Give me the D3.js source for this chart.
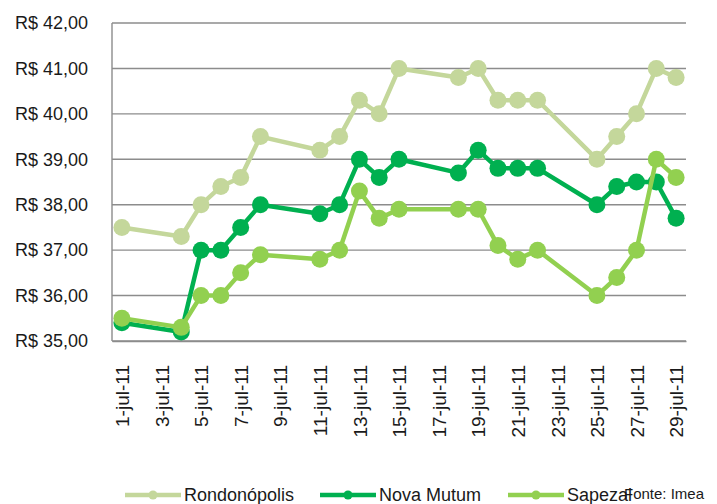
<!DOCTYPE html>
<html>
<head>
<meta charset="utf-8">
<script src="https://cdn.jsdelivr.net/npm/d3@7"></script>
<style>
  body { margin: 0; background: #fff; }
  text { font-family: "Liberation Sans", Arial, sans-serif; fill: #1a1a1a; }
</style>
</head>
<body>
<div id="chart"></div>
<script>
// Data
const dates = ["2011-07-01", "2011-07-04", "2011-07-05", "2011-07-06", "2011-07-07", "2011-07-08",
               "2011-07-11", "2011-07-12", "2011-07-13", "2011-07-14", "2011-07-15",
               "2011-07-18", "2011-07-19", "2011-07-20", "2011-07-21", "2011-07-22",
               "2011-07-25", "2011-07-26", "2011-07-27", "2011-07-28", "2011-07-29"];
const rondonopolis = [37.5, 37.3, 38.0, 38.4, 38.6, 39.5, 39.2, 39.5, 40.3, 40.0, 41.0,
                      40.8, 41.0, 40.3, 40.3, 40.3, 39.0, 39.5, 40.0, 41.0, 40.8];
const novaMutum    = [35.4, 35.2, 37.0, 37.0, 37.5, 38.0, 37.8, 38.0, 39.0, 38.6, 39.0,
                      38.7, 39.2, 38.8, 38.8, 38.8, 38.0, 38.4, 38.5, 38.5, 37.7];
const sapezal      = [35.5, 35.3, 36.0, 36.0, 36.5, 36.9, 36.8, 37.0, 38.3, 37.7, 37.9,
                      37.9, 37.9, 37.1, 36.8, 37.0, 36.0, 36.4, 37.0, 39.0, 38.6];
const seriesNames  = ["Rondonópolis", "Nova Mutum", "Sapezal"];
const seriesColors = ["#c4d79b", "#00b050", "#92d050"];
const yTicks = [35, 36, 37, 38, 39, 40, 41, 42];

const W = 717, H = 504;
const plot = {left: 112, right: 686, top: 23, bottom: 341};

const parse = d3.timeParse("%Y-%m-%d");
const days = dates.map(parse);
const series = [rondonopolis, novaMutum, sapezal];

const svg = d3.select("#chart").append("svg")
  .attr("width", W)
  .attr("height", H);

// scales (half a day of padding on each side, like excel's date axis)
const x = d3.scaleTime()
  .domain([d3.timeHour.offset(parse("2011-07-01"), -12), d3.timeHour.offset(parse("2011-07-29"), 12)])
  .range([plot.left, plot.right]);

const y = d3.scaleLinear()
  .domain([35, 42])
  .range([plot.bottom, plot.top]);

// gridlines
svg.append("g")
  .selectAll("line")
  .data(yTicks)
  .join("line")
    .attr("x1", plot.left)
    .attr("x2", plot.right)
    .attr("y1", d => y(d))
    .attr("y2", d => y(d))
    .attr("stroke", "#8c8c8c")
    .attr("stroke-width", 1.4);

// left axis line
svg.append("line")
  .attr("x1", plot.left).attr("x2", plot.left)
  .attr("y1", plot.top).attr("y2", plot.bottom)
  .attr("stroke", "#8c8c8c")
  .attr("stroke-width", 1.4);

// Y labels
const fmt = d => "R$ " + d3.format(".2f")(d).replace(".", ",");
svg.append("g")
  .selectAll("text")
  .data(yTicks)
  .join("text")
    .attr("x", 88)
    .attr("y", d => y(d))
    .attr("dy", "0.35em")
    .attr("text-anchor", "end")
    .attr("font-size", "18px")
    .text(fmt);

// X axis
const xAxis = d3.axisBottom(x)
  .ticks(d3.timeDay.every(2))
  .tickSize(0)
  .tickFormat(d => d.getDate() + "-jul-11");

svg.append("g")
  .attr("transform", "translate(0," + plot.bottom + ")")
  .call(xAxis)
  .call(g => g.select(".domain").attr("stroke", "#8c8c8c").attr("stroke-width", 1.4))
  .selectAll("text")
    .attr("font-family", "Liberation Sans, Arial, sans-serif")
    .attr("font-size", "19px")
    .attr("fill", "#1a1a1a")
    .attr("transform", "rotate(-90)")
    .attr("text-anchor", "end")
    .attr("x", -24)
    .attr("y", 0)
    .attr("dy", "0.35em");

// lines and markers
const line = d3.line()
  .x((d, i) => x(days[i]))
  .y(d => y(d));

series.forEach((vals, s) => {
  const g = svg.append("g");
  g.append("path")
    .datum(vals)
    .attr("d", line)
    .attr("fill", "none")
    .attr("stroke", seriesColors[s])
    .attr("stroke-width", 4.5)
    .attr("stroke-linejoin", "round");
  g.selectAll("circle")
    .data(vals)
    .join("circle")
      .attr("cx", (d, i) => x(days[i]))
      .attr("cy", d => y(d))
      .attr("r", 8.5)
      .attr("fill", seriesColors[s]);
});

// legend
const legendX = [125, 320, 508];
const legend = svg.append("g");
seriesNames.forEach((name, i) => {
  const lx = legendX[i];
  legend.append("line")
    .attr("x1", lx).attr("x2", lx + 56)
    .attr("y1", 495).attr("y2", 495)
    .attr("stroke", seriesColors[i])
    .attr("stroke-width", 4.5);
  legend.append("circle")
    .attr("cx", lx + 28).attr("cy", 495)
    .attr("r", 4.5)
    .attr("fill", seriesColors[i]);
  legend.append("text")
    .attr("x", lx + 59)
    .attr("y", 501)
    .attr("font-size", "18px")
    .text(name);
});

// source
svg.append("text")
  .attr("x", 624)
  .attr("y", 499)
  .attr("font-size", "15px")
  .text("Fonte: Imea");
</script>
</body>
</html>
